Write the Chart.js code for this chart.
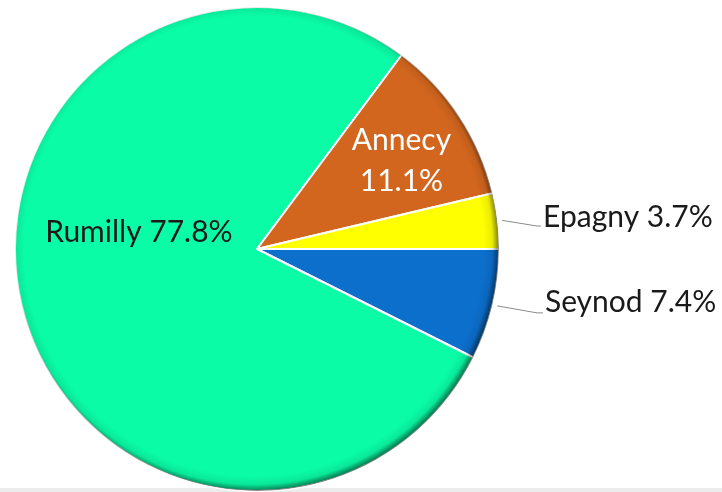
<!DOCTYPE html>
<html><head><meta charset="utf-8">
<script src="https://cdn.jsdelivr.net/npm/chart.js@4/dist/chart.umd.min.js"></script>
<style>
html,body{margin:0;padding:0;background:#fff;}
#wrap{position:relative;width:722px;height:492px;background:linear-gradient(to bottom,#fff 0,#fff 488px,#ececec 488px,#ececec 492px);}
canvas{display:block;}
</style></head><body>
<div id="wrap"><canvas id="c" width="722" height="492"></canvas></div>
<script>
const categories = ['Seynod', 'Rumilly', 'Annecy', 'Epagny'];
const shares = [7.4, 77.8, 11.1, 3.7];
const sliceColors = ['#0C6FCC', '#0AFCA6', '#D2661E', '#FFFF00'];

// label placement (fractions of radius, relative to pie centre)
const labelStyle = {
  Rumilly: { mode: 'inside', color: '#1a1a1a', lines: 1, dx: -0.488, dy: -0.029 },
  Annecy:  { mode: 'inside', color: '#ffffff', lines: 2, dx: 0.597, dy: -0.409, dy2: -0.24 },
  Epagny:  { mode: 'outside', color: '#1a1a1a', dx: 1.182, dy: -0.091, ex: 1.157, ey: -0.095 },
  Seynod:  { mode: 'outside', color: '#1a1a1a', dx: 1.19, dy: 0.26, ex: 1.157, ey: 0.264 }
};
const FONT = '30px Lato, "Open Sans", sans-serif';

const rimPlugin = {
  id: 'rim',
  afterDatasetsDraw(chart) {
    const ctx = chart.ctx;
    chart.getDatasetMeta(0).data.forEach(arc => {
      const { x, y, outerRadius: r, startAngle, endAngle } = arc.getProps(['x','y','outerRadius','startAngle','endAngle'], true);
      ctx.save();
      ctx.beginPath();
      ctx.moveTo(x, y);
      ctx.arc(x, y, r, startAngle, endAngle);
      ctx.closePath();
      ctx.clip();
      const g = ctx.createRadialGradient(x - 3, y - 3, r - 12, x - 3, y - 3, r + 2);
      g.addColorStop(0, 'rgba(0,0,0,0)');
      g.addColorStop(0.6, 'rgba(0,0,0,0.08)');
      g.addColorStop(1, 'rgba(0,0,0,0.45)');
      ctx.fillStyle = g;
      ctx.fill();
      ctx.restore();
    });
  }
};

const labelPlugin = {
  id: 'sliceLabels',
  afterDraw(chart) {
    const ctx = chart.ctx;
    const meta = chart.getDatasetMeta(0);
    meta.data.forEach((arc, i) => {
      const name = chart.data.labels[i];
      const v = chart.data.datasets[0].data[i];
      const pct = v.toFixed(1) + '%';
      const s = labelStyle[name];
      const { x, y, outerRadius: r, startAngle, endAngle } = arc.getProps(['x','y','outerRadius','startAngle','endAngle'], true);
      ctx.save();
      ctx.font = FONT;
      ctx.fillStyle = s.color;
      ctx.textBaseline = 'alphabetic';
      if (s.mode === 'inside') {
        ctx.textAlign = 'center';
        if (s.lines === 2) {
          ctx.fillText(name, x + s.dx * r, y + s.dy * r);
          ctx.fillText(pct, x + s.dx * r, y + s.dy2 * r);
        } else {
          ctx.fillText(name + ' ' + pct, x + s.dx * r, y + s.dy * r);
        }
      } else {
        const mid = (startAngle + endAngle) / 2;
        const sx = x + Math.cos(mid) * r * 1.02;
        const sy = y + Math.sin(mid) * r * 1.02;
        const ex = x + s.ex * r, ey = y + s.ey * r;
        ctx.strokeStyle = '#8c8c8c';
        ctx.lineWidth = 1;
        ctx.beginPath();
        ctx.moveTo(sx, sy);
        ctx.lineTo(ex, ey);
        ctx.lineTo(x + s.dx * r - 2, ey);
        ctx.stroke();
        ctx.textAlign = 'left';
        ctx.fillText(name + ' ' + pct, x + s.dx * r, y + s.dy * r);
      }
      ctx.restore();
    });
  }
};

new Chart(document.getElementById('c'), {
  type: 'pie',
  data: {
    labels: categories,
    datasets: [{
      data: shares,
      backgroundColor: sliceColors,
      borderColor: '#ffffff',
      borderWidth: 2
    }]
  },
  options: {
    responsive: false,
    animation: false,
    devicePixelRatio: 1,
    rotation: 90,
    layout: { padding: { left: 14, right: 222, top: 6, bottom: 0 } },
    plugins: { legend: { display: false }, tooltip: { enabled: false } }
  },
  plugins: [rimPlugin, labelPlugin]
});
</script>
</body></html>
